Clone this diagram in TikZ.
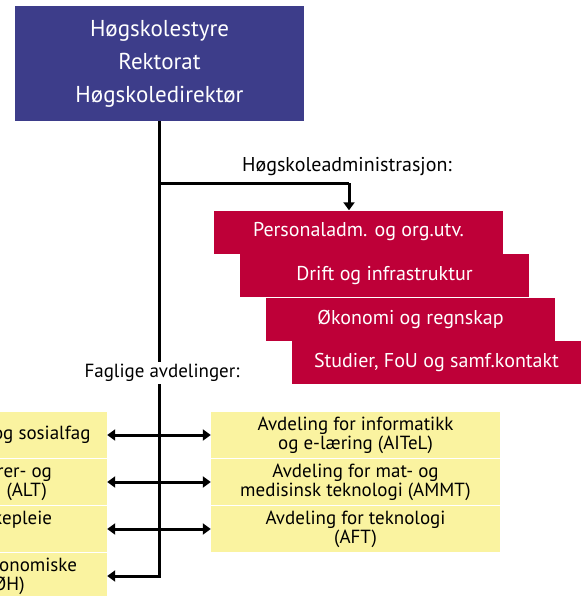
\documentclass[tikz,border=0pt]{standalone}
\usepackage{fontspec}
\setmainfont{PT Sans}
\usetikzlibrary{arrows.meta}
\definecolor{styreblaa}{RGB}{61,61,138}
\definecolor{admroed}{RGB}{190,0,56}
\definecolor{avdgul}{RGB}{250,243,160}
\tikzset{
  ledelse/.style={fill=styreblaa, text=white, minimum width=289pt,
    minimum height=115pt, align=center, inner sep=0pt,
    font=\fontsize{23}{33}\selectfont},
  stab/.style={fill=admroed, text=white, minimum width=289pt,
    minimum height=43pt, inner sep=0pt, font=\fontsize{20}{22}\selectfont},
  avdeling/.style={fill=avdgul, minimum width=289pt, minimum height=46pt,
    align=center, inner sep=0pt, font=\fontsize{19}{19}\selectfont},
  etikett/.style={fill=white, inner sep=2pt, font=\fontsize{19}{21}\selectfont},
  linje/.style={line width=3pt},
  pil/.style={linje, -{Triangle[length=8pt,width=11pt]}},
  dobbelpil/.style={linje, {Triangle[length=8pt,width=11pt]}-{Triangle[length=8pt,width=11pt]}}
}
\def\Stab#1#2#3#4{%
  \node[stab] (#1) at (#2,#3) {#4};
}
\def\Avdeling#1#2#3#4{%
  \node[avdeling] (#1) at (#2,#3) {#4};
}

\begin{document}
\begin{tikzpicture}[x=1pt, y=-1pt]
\useasboundingbox (0,0) rectangle (584,596);
\clip (0,0) rectangle (584,596);

\node[ledelse] (ledelse) at (159.5,63.5) {Høgskolestyre\\Rektorat\\Høgskoledirektør};

% administrasjonen
\Stab{personal}{358.5}{232}{Personaladm. og org.utv.}
\Stab{drift}{384.5}{275.5}{Drift og infrastruktur}
\Stab{oekonomi}{410.5}{319.5}{Økonomi og regnskap}
\Stab{studier}{436.5}{362.5}{Studier, FoU og samf.kontakt}

% avdelingene
\Avdeling{ahs}{-37.5}{435}{Avdeling for helse- og sosialfag}
\Avdeling{alt}{-37.5}{482}{Avdeling for lærer- og\\tolkeutdanning (ALT)}
\Avdeling{asp}{-37.5}{529}{Avdeling for sykepleie\\(ASP)}
\Avdeling{toeh}{-37.5}{576}{Avd. Trondheim økonomiske\\høgskole (TØH)}
\Avdeling{aitel}{355.5}{435}{Avdeling for informatikk\\og e-læring (AITeL)}
\Avdeling{ammt}{355.5}{482}{Avdeling for mat- og\\medisinsk teknologi (AMMT)}
\Avdeling{aft}{355.5}{529}{Avdeling for teknologi\\(AFT)}

\coordinate (adm) at (349,183);
\draw[linje] (ledelse.south |- adm) -- (adm);
\draw[pil] (adm) -- (adm |- personal.north);
\draw[pil] (ledelse.south) -- (ledelse.south |- toeh.east) -- (toeh.east);
\draw[dobbelpil] (ahs.east) -- (aitel.west);
\draw[dobbelpil] (alt.east) -- (ammt.west);
\draw[dobbelpil] (asp.east) -- (aft.west);

\node[etikett, font=\fontsize{20}{22}\selectfont] (admtekst) at (347,167) {Høgskoleadministrasjon:};
\node[etikett] (fagtekst) at (162,373) {Faglige avdelinger:};
\end{tikzpicture}
\end{document}
